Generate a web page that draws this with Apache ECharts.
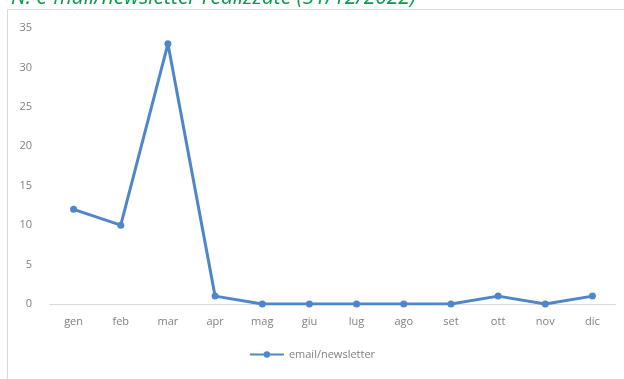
<!DOCTYPE html>
<html>
<head>
<meta charset="utf-8">
<script src="https://cdn.jsdelivr.net/npm/echarts@6/dist/echarts.min.js"></script>
<style>
html,body{margin:0;padding:0;background:#fff;}
#chart{width:624px;height:379px;}
</style>
</head>
<body>
<div id="chart"></div>
<script>
// Monthly e-mail/newsletter count
const months = ['gen','feb','mar','apr','mag','giu','lug','ago','set','ott','nov','dic'];
const newsletterCounts = [12, 10, 33, 1, 0, 0, 0, 0, 0, 1, 0, 1];
const yTicks = { min: 0, max: 35, interval: 5 };
const seriesName = 'email/newsletter';
const titleText = 'N. e-mail/newsletter realizzate (31/12/2022)';

const chart = echarts.init(document.getElementById('chart'), null, { renderer: 'canvas' });
const lineColor = '#4f86c8';
const textColor = '#7f7f7f';
const fontFamily = 'Open Sans, Liberation Sans, sans-serif';

chart.setOption({
  animation: false,
  backgroundColor: '#fff',
  title: {
    text: titleText,
    left: 6,
    top: -17,
    textStyle: { color: '#0a9a4a', fontStyle: 'italic', fontWeight: 'normal', fontSize: 21, fontFamily }
  },
  graphic: [{
    type: 'rect',
    shape: { x: 7.5, y: 9.5, width: 640, height: 400 },
    style: { fill: 'none', stroke: '#d9d9d9', lineWidth: 1 },
    silent: true, z: -1
  }],
  grid: { left: 50, right: 8, top: 28, bottom: 75, containLabel: false },
  legend: {
    bottom: 14,
    left: 'center',
    itemWidth: 34,
    itemHeight: 8,
    itemGap: 4,
    data: [seriesName],
    textStyle: { color: textColor, fontSize: 11, fontFamily }
  },
  xAxis: {
    type: 'category',
    data: months,
    boundaryGap: true,
    axisLine: { lineStyle: { color: '#d9d9d9', width: 1 } },
    axisTick: { show: false },
    axisLabel: { color: textColor, fontSize: 11, fontFamily, margin: 12 }
  },
  yAxis: {
    type: 'value',
    min: yTicks.min,
    max: yTicks.max,
    interval: yTicks.interval,
    axisLine: { show: false },
    axisTick: { show: false },
    splitLine: { show: false },
    axisLabel: { color: textColor, fontSize: 11, fontFamily, margin: 18 }
  },
  series: [{
    name: seriesName,
    type: 'line',
    data: newsletterCounts,
    symbol: 'circle',
    symbolSize: 7,
    lineStyle: { color: lineColor, width: 3 },
    itemStyle: { color: lineColor }
  }]
});
</script>
</body>
</html>
